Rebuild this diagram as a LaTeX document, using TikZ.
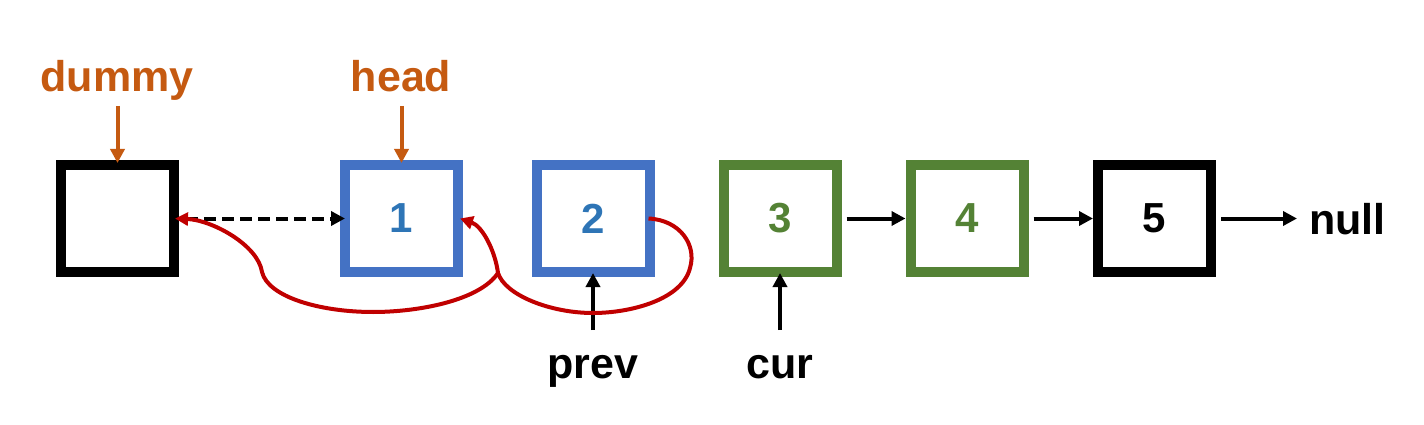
\documentclass[tikz,border=0pt]{standalone}
\usepackage{fontspec}
\setmainfont{Liberation Sans}
\usetikzlibrary{arrows.meta}
\definecolor{orng}{HTML}{C55A11}
\definecolor{bluebox}{HTML}{4472C4}
\definecolor{bluetxt}{HTML}{2E75B6}
\definecolor{grn}{HTML}{548235}
\definecolor{redc}{HTML}{C00000}
\tikzset{
  listbox/.style={draw, line width=10pt, minimum width=113pt, minimum height=107pt, inner sep=0pt, font=\fontsize{42}{50}\selectfont\bfseries},
  lbl/.style={anchor=base, inner sep=0pt, font=\fontsize{43}{50}\selectfont\bfseries},
  tip/.style={-{Triangle[length=14pt,width=14pt]}, line width=4pt},
  redtip/.style={-{Triangle[length=13pt,width=13pt]}, line width=4pt, redc},
}
\begin{document}
\begin{tikzpicture}[x=1pt,y=-1pt]
\useasboundingbox (0,0) rectangle (1424,425);
\node[listbox] (d) at (117.5,218.5) {};
\node[listbox, bluebox, text=bluetxt] (b1) at (401.5,218.5) {1};
\node[listbox, bluebox, text=bluetxt] (b2) at (593,218.5) {2};
\node[listbox, grn, text=grn] (b3) at (780,218.5) {3};
\node[listbox, grn, text=grn] (b4) at (967,218.5) {4};
\node[listbox] (b5) at (1154.5,218.5) {5};
\node[lbl, orng] (ld) at (117,92) {dummy};
\node[lbl, orng] (lh) at (401,92) {head};
\node[lbl] (lp) at (593,378) {prev};
\node[lbl] (lc) at (780,378) {cur};
\node[lbl, anchor=base west] (nl) at (1309,234) {null};
\coordinate (nullpt) at (1297,218.5);
% pointer arrows
\draw[tip, orng] ([yshift=54pt]d.north) -- ([yshift=-3pt]d.north);
\draw[tip, orng] ([yshift=54pt]b1.north) -- ([yshift=-3pt]b1.north);
\draw[tip] ([yshift=-53pt]b2.south) -- ([yshift=4pt]b2.south);
\draw[tip] ([yshift=-53pt]b3.south) -- ([yshift=4pt]b3.south);
% next links
\draw[tip, dash pattern=on 12pt off 6pt] ([xshift=7pt]d.east) -- ([xshift=5pt]b1.west);
\draw[tip] ([xshift=5pt]b3.east) -- (b4.west);
\draw[tip] ([xshift=5pt]b4.east) -- (b5.west);
\draw[tip] ([xshift=5pt]b5.east) -- (nullpt);
% red reversal curves
\coordinate (junc) at (498,273);
\draw[redtip] ([xshift=-6pt]b2.east) .. controls (680,220) and (697,245) .. (690,268)
  .. controls (682,300) and (630,313) .. (593,313)
  .. controls (550,313) and (505,295) .. (junc)
  .. controls (495,250) and (482,226) .. ([xshift=-3pt]b1.east);
\draw[redtip] (junc) .. controls (480,300) and (420,312) .. (373,312)
  .. controls (320,312) and (268,297) .. (262,272)
  .. controls (258,245) and (212,220) .. ([xshift=-4pt]d.east);
\end{tikzpicture}
\end{document}
